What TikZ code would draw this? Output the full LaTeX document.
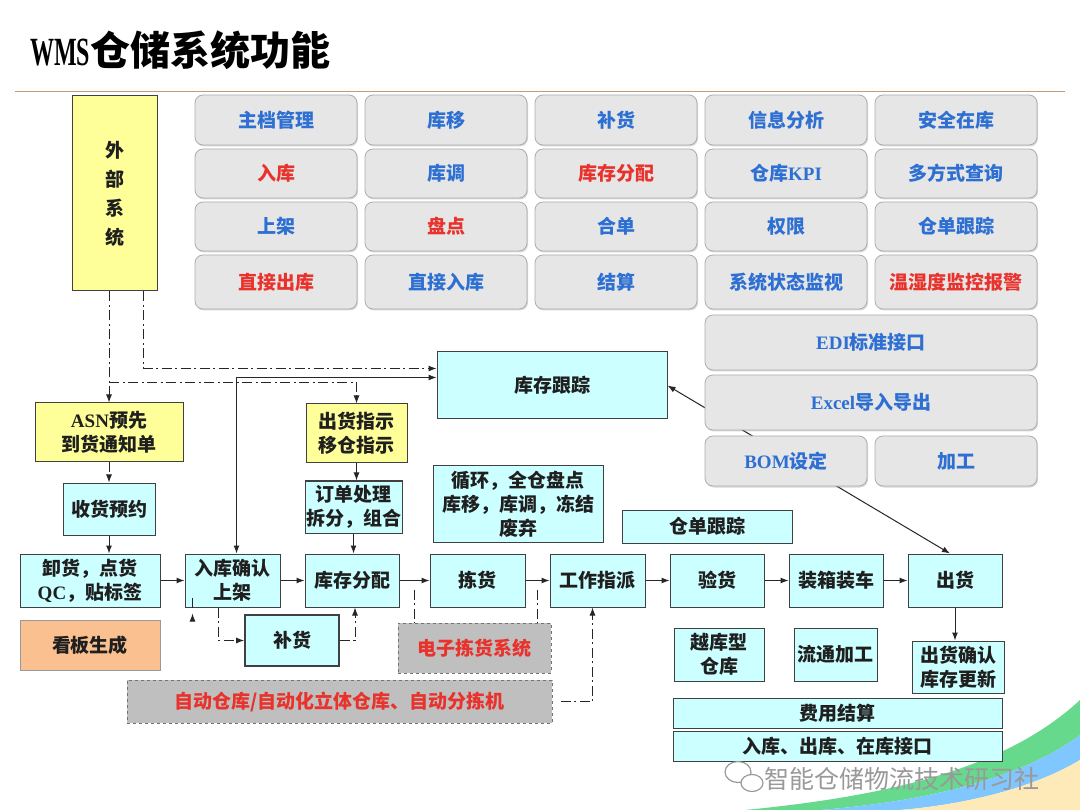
\documentclass[tikz,border=0pt]{standalone}
\usepackage{fontspec}
\usepackage{graphicx}
\setmainfont{Noto Sans CJK SC}
\newfontfamily\lat{Liberation Serif}
\usetikzlibrary{arrows.meta,shadows,calc,shapes.geometric}
\definecolor{cyanbox}{HTML}{CCFFFF}
\definecolor{yelbox}{HTML}{FFFF99}
\definecolor{orgbox}{HTML}{FAC090}
\definecolor{btnblue}{HTML}{2D6FD2}
\definecolor{btnred}{HTML}{E8322B}
\definecolor{btnfill}{HTML}{E6E6E6}
\definecolor{rulecol}{HTML}{C49A7C}
\pgfdeclarelayer{bg}
\pgfsetlayers{bg,main}
\newcommand\mkbox[7]{\node[#6,minimum width={#4-#2},minimum height={#5-#3}] (#1) at ({(#2+#4)/2},{(#3+#5)/2}) {#7};}
\begin{document}
\begin{tikzpicture}[x=1pt,y=-1pt,
  btn/.style={rounded corners=8pt, draw=black!32, fill=btnfill, line width=0.8pt, text=btnblue,
    font=\fontsize{19}{23}\selectfont\bfseries, inner sep=1pt,
    drop shadow={shadow xshift=1pt,shadow yshift=-1.5pt,opacity=0.3}},
  rbtn/.style={btn,text=btnred},
  cy/.style={draw=black!75, fill=cyanbox, line width=1pt, text=black!88,
    font=\fontsize{19}{24}\selectfont\bfseries, align=center, inner sep=1pt},
  yl/.style={cy, fill=yelbox},
  org/.style={cy, fill=orgbox, draw=black!40},
  gd/.style={cy, fill=black!25, draw=black!55, dashed, text=btnred},
  dd/.style={line width=1pt, draw=black!85, dash pattern=on 10pt off 3.5pt on 2pt off 3.5pt},
  arr/.style={-{Latex[length=8pt,width=6pt]}},
  sl/.style={line width=1pt, draw=black!85},
]
\begin{pgfonlayer}{bg}
\fill[white] (0,0) rectangle (1080,810);
\end{pgfonlayer}
\useasboundingbox (0,0) rectangle (1080,810);

% title
\node[anchor=west, inner sep=0pt, font=\fontsize{40}{40}\selectfont\bfseries] (title) at (30,50)
  {{\lat\scalebox{0.6}[1]{WMS}}仓储系统功能};
\coordinate (rl) at (15,92);
\coordinate (rr) at (1065,92);
\draw[rulecol, line width=1pt] (rl) -- (rr);

% function buttons
\mkbox{b11}{195}{95}{357}{145}{btn}{主档管理}
\mkbox{b12}{365}{95}{527}{145}{btn}{库移}
\mkbox{b13}{535}{95}{697}{145}{btn}{补货}
\mkbox{b14}{705}{95}{867}{145}{btn}{信息分析}
\mkbox{b15}{875}{95}{1037}{145}{btn}{安全在库}
\mkbox{b21}{195}{149}{357}{198}{rbtn}{入库}
\mkbox{b22}{365}{149}{527}{198}{btn}{库调}
\mkbox{b23}{535}{149}{697}{198}{rbtn}{库存分配}
\mkbox{b24}{705}{149}{867}{198}{btn}{仓库{\lat KPI}}
\mkbox{b25}{875}{149}{1037}{198}{btn}{多方式查询}
\mkbox{b31}{195}{202}{357}{251}{btn}{上架}
\mkbox{b32}{365}{202}{527}{251}{rbtn}{盘点}
\mkbox{b33}{535}{202}{697}{251}{btn}{合单}
\mkbox{b34}{705}{202}{867}{251}{btn}{权限}
\mkbox{b35}{875}{202}{1037}{251}{btn}{仓单跟踪}
\mkbox{b41}{195}{255}{357}{309}{rbtn}{直接出库}
\mkbox{b42}{365}{255}{527}{309}{btn}{直接入库}
\mkbox{b43}{535}{255}{697}{309}{btn}{结算}
\mkbox{b44}{705}{255}{867}{309}{btn}{系统状态监视}
\mkbox{b45}{875}{255}{1037}{309}{rbtn}{温湿度监控报警}
\mkbox{edi}{705}{315}{1037}{370}{btn}{{\lat EDI}标准接口}
\mkbox{xls}{705}{375}{1037}{430}{btn}{{\lat Excel}导入导出}

% flow boxes
\mkbox{ext}{72}{96}{157}{291}{yl,font=\fontsize{19}{29}\selectfont\bfseries}{外\\部\\系\\统}
\mkbox{asn}{35}{403}{183}{462}{yl}{{\lat ASN}预先\\到货通知单}
\mkbox{shyy}{63}{483}{155}{535}{cy}{收货预约}
\mkbox{xh}{20}{554}{160}{607}{cy}{卸货，点货\\{\lat QC}，贴标签}
\mkbox{kb}{20}{620}{160}{670}{org}{看板生成}
\mkbox{rk}{185}{554}{280}{607}{cy}{入库确认\\上架}
\mkbox{kcfp}{305}{554}{399}{607}{cy}{库存分配}
\mkbox{jh}{430}{554}{525}{607}{cy}{拣货}
\mkbox{gz}{550}{554}{645}{607}{cy}{工作指派}
\mkbox{yh}{670}{554}{764}{607}{cy}{验货}
\mkbox{zx}{789}{554}{883}{607}{cy}{装箱装车}
\mkbox{chu}{908}{554}{1002}{607}{cy}{出货}
\mkbox{bh}{245}{615}{339}{666}{cy,line width=1.6pt}{补货}
\mkbox{dz}{398}{623}{551}{673}{gd}{电子拣货系统}
\mkbox{zd}{127}{680}{552}{723}{gd}{自动仓库/自动化立体仓库、自动分拣机}
\mkbox{ykx}{674}{628}{764}{681}{cy}{越库型\\仓库}
\mkbox{ltjg}{794}{628}{877}{681}{cy}{流通加工}
\mkbox{chqr}{912}{641}{1004}{693}{cy}{出货确认\\库存更新}
\mkbox{fyjs}{673}{698}{1002}{728}{cy}{费用结算}
\mkbox{jk}{673}{731}{1002}{761}{cy}{入库、出库、在库接口}
\mkbox{kc}{437}{352}{667}{419}{cy}{库存跟踪}
\mkbox{chzs}{306}{404}{407}{463}{yl}{出货指示\\移仓指示}
\mkbox{ddcl}{306}{481}{401}{533}{cy}{订单处理\\拆分，组合}
\mkbox{xhpd}{433}{466}{603}{542}{cy}{循环，全仓盘点\\库移，库调，冻结\\废弃}
\mkbox{cdgz}{622}{510}{792}{543}{cy}{仓单跟踪}

% diagonal connector behind BOM box
\begin{pgfonlayer}{bg}
\draw[sl,{Latex[length=8pt,width=6pt]}-{Latex[length=8pt,width=6pt]}] ($(chu.north)+(-5,0)$) -- (kc.east);
\end{pgfonlayer}
\mkbox{bom}{705}{436}{867}{486}{btn}{{\lat BOM}设定}
\mkbox{jg}{875}{436}{1037}{486}{btn}{加工}

% connectors from external system
\draw[dd,arr] (ext.south -| asn.north) -- (asn.north);
\draw[dd,arr] ($(ext.south east)+(-14,0)$) |- ($(kc.west)+(0,-17)$);
\coordinate (j1) at ($(ext.south -| asn.north)+(0,91)$);
\draw[dd,arr] (j1) -| (chzs.north);
\draw[sl,{Latex[length=8pt,width=6pt]}-{Latex[length=8pt,width=6pt]}] ($(kc.west)+(0,-8)$) -| ($(rk.north)+(4,0)$);

% inbound
\draw[dd,arr] (asn.south) -- (asn.south |- shyy.north);
\draw[sl,arr] (shyy.south -| asn.south) -- (asn.south |- xh.north);
\draw[sl,arr] (xh.east) -- (rk.west);
\draw[sl,arr] (rk.east) -- (kcfp.west);
\draw[sl,arr] (kcfp.east) -- (jh.west);
\draw[sl,arr] (jh.east) -- (gz.west);
\draw[sl,arr] (gz.east) -- (yh.west);
\draw[sl,arr] (yh.east) -- (zx.west);
\draw[sl,arr] (zx.east) -- (chu.west);
\draw[sl,arr] (chzs.south) -- (chzs.south |- ddcl.north);
\draw[sl,arr] (ddcl.south) -- (ddcl.south |- kcfp.north);
\draw[sl,arr] (chu.south) -- (chu.south |- chqr.north);

% dash-dot links below the flow
\draw[dd,arr] ($(rk.south)+(-14,0)$) |- (bh.west);
\draw[dd,arr] (bh.east) -| ($(kcfp.south)+(3,0)$);
\draw[dd,arr,shorten >=6pt] ($(rk.south)+(-40,0)$) -- ($(rk.south)+(-40,0)$ |- zd.north);
\coordinate (t1) at ($(kcfp.east)!0.5!(jh.west)+(0,9)$);
\coordinate (t2) at ($(jh.east)!0.5!(gz.west)+(0,9)$);
\draw[dd] (t1) -- (t1 |- dz.north);
\draw[dd] (t2) -- (t2 |- dz.north);
\draw[dd,arr,shorten <=8pt] (zd.east) -| ($(gz.south)+(-5,0)$);

% watermark and decoration
\begin{pgfonlayer}{bg}
\fill[teal!50!green!60] (745,810) .. controls (900,795) and (1010,765) .. (1080,700) -- (1080,735) .. controls (1020,780) and (920,802) .. (820,810) -- cycle;
\fill[blue!45!cyan!50] (820,810) .. controls (920,802) and (1020,780) .. (1080,735) -- (1080,760) .. controls (1030,790) and (960,805) .. (900,810) -- cycle;
\fill[yellow!40!orange!25] (900,810) .. controls (960,805) and (1030,790) .. (1080,760) -- (1080,810) -- cycle;
\end{pgfonlayer}
\node[draw=black!40, line width=1.2pt, ellipse, minimum width=26pt, minimum height=21pt, inner sep=0pt] (wc1) at (738,772) {};
\node[draw=black!40, fill=white, line width=1.2pt, ellipse, minimum width=22pt, minimum height=17pt, inner sep=0pt] (wc2) at (752,783) {};
\node[anchor=west, text=black!40, font=\fontsize{25}{25}\selectfont, inner sep=0pt] (wm) at (764,779) {智能仓储物流技术研习社};
\end{tikzpicture}
\end{document}
